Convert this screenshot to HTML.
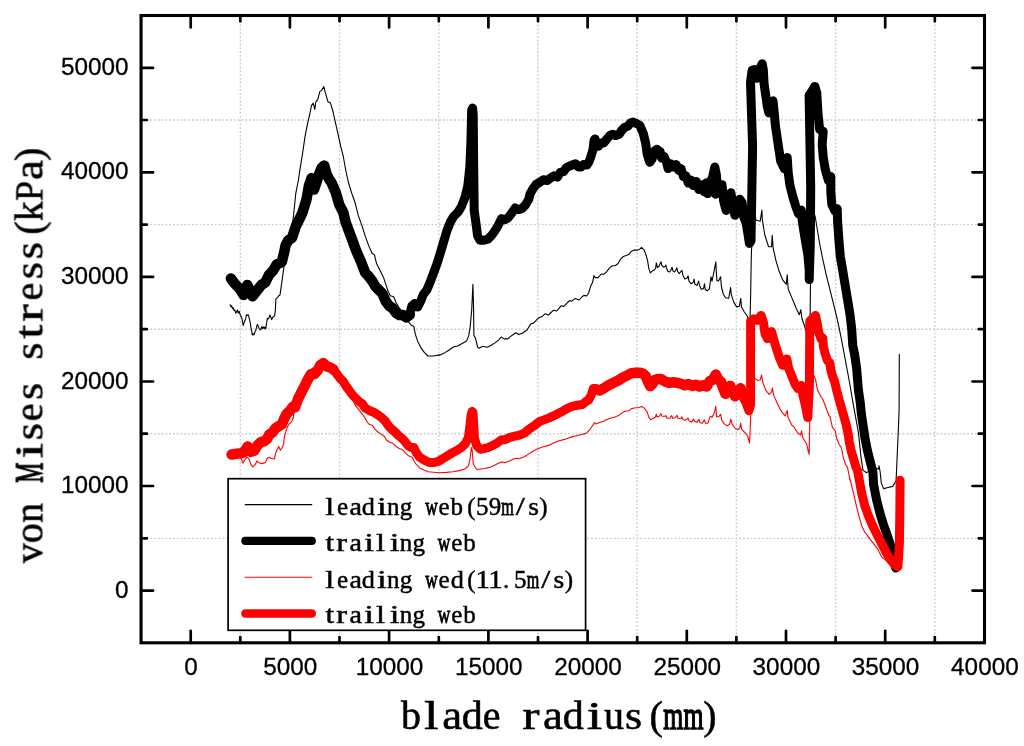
<!DOCTYPE html><html><head><meta charset="utf-8"><style>html,body{margin:0;padding:0;background:#fff;}svg{display:block}</style></head><body>
<svg width="1024" height="746" viewBox="0 0 1024 746">
<rect width="1024" height="746" fill="#fff"/>
<path d="M240.3 17.0V641.3M339.5 17.0V641.3M438.8 17.0V641.3M538.0 17.0V641.3M637.2 17.0V641.3M736.4 17.0V641.3M835.6 17.0V641.3M934.8 17.0V641.3M142.6 538.3H983.0M142.6 433.7H983.0M142.6 329.2H983.0M142.6 224.6H983.0M142.6 120.0H983.0" stroke="#cacaca" stroke-width="1.35" stroke-dasharray="1.8 2" fill="none"/>
<g fill="none" stroke-linejoin="round" stroke-linecap="round">
<path d="M230.1 304.8L231.0 306.9L231.6 305.7L232.5 308.7L233.4 307.8L234.0 310.7L234.8 309.9L235.7 313.1L236.6 311.6L237.5 309.9L238.1 313.1L239.0 311.3L239.9 313.7L240.7 316.1L241.6 317.2L242.5 321.4L243.1 325.5L244.0 323.1L244.9 320.8L245.8 318.4L246.4 314.9L247.2 315.5L248.1 314.6L248.7 316.1L249.3 318.4L250.2 322.5L250.8 326.7L251.7 331.4L252.3 334.9L253.1 333.8L254.0 334.9L254.9 332.0L255.8 330.2L256.4 327.9L257.3 324.3L258.2 326.1L259.0 328.2L260.2 329.9L261.1 329.0L261.7 326.7L262.3 328.4L263.2 326.7L264.1 328.7L264.9 327.0L265.8 328.7L266.7 322.5L267.3 318.4L268.2 319.0L269.1 317.5L270.0 314.9L270.8 317.2L271.7 319.6L272.6 317.2L273.8 316.6L274.7 315.5L275.3 310.7L275.6 304.8L275.9 298.9L277.3 297.8L278.5 296.0L280.0 295.0L281.8 282.3L284.3 264.5L286.9 249.2L290.7 231.4L293.2 218.7L295.8 193.3L298.3 180.5L300.0 169.2L302.5 154.0L305.1 136.2L307.6 123.4L309.7 114.5L311.5 105.6L313.2 103.1L314.8 109.4L315.8 101.8L317.8 99.3L319.8 91.6L321.6 90.4L323.7 86.5L325.4 92.9L328.0 101.8L330.5 103.1L333.1 112.0L335.6 123.4L338.2 134.9L340.7 146.3L343.3 156.5L345.8 170.5L348.3 182.0L352.2 194.7L355.0 202.3L358.4 215.9L361.8 225.1L365.3 236.4L368.7 245.6L372.1 253.5L374.4 254.7L376.6 263.8L380.1 270.6L383.5 277.4L385.8 284.3L388.0 291.1L390.3 295.7L393.7 296.8L396.0 302.5L399.4 308.2L404.0 313.9L408.5 321.9L411.5 325.3L413.8 326.4L415.4 334.4L417.6 341.2L421.1 348.1L424.5 352.6L427.9 356.0L433.6 356.0L439.3 354.9L440.0 355.1L444.4 352.9L448.8 350.2L453.3 347.0L457.7 346.0L462.1 343.6L466.5 341.1L468.7 335.9L470.2 326.3L471.7 310.1L472.4 295.4L472.9 284.3L473.5 304.2L473.9 335.2L475.4 338.1L477.6 347.0L479.1 348.2L482.8 346.2L487.2 347.3L490.9 345.5L495.3 342.6L499.0 339.6L501.2 337.0L504.1 338.9L507.8 338.9L512.2 335.2L515.9 332.7L518.9 334.5L522.6 333.0L527.0 330.0L530.7 324.1L533.6 323.1L538.5 317.8L541.7 316.8L545.0 313.8L548.4 315.1L551.0 312.5L553.7 310.2L556.4 311.1L558.4 309.1L561.1 305.8L563.8 306.4L566.5 303.7L569.1 300.8L571.8 301.1L575.2 298.4L579.2 300.0L581.9 297.0L583.9 295.4L586.6 296.0L588.6 293.0L590.6 286.3L592.6 282.3L593.9 275.6L595.3 277.6L598.0 277.6L601.3 274.0L604.0 274.2L606.7 271.6L609.4 268.2L612.0 265.9L615.4 265.5L618.1 263.5L620.8 258.8L623.4 256.5L626.1 255.5L628.8 254.4L631.5 251.2L634.2 250.1L637.5 250.1L639.5 249.4L641.5 247.4L644.2 250.1L646.2 255.5L647.6 260.8L648.9 268.9L650.3 272.9L652.3 270.9L654.3 270.0L655.6 268.2L656.3 262.9L657.4 267.5L659.0 266.2L660.0 263.9L661.1 261.8L661.6 265.0L663.8 267.2L665.4 266.1L665.9 265.0L666.4 267.7L668.0 271.5L669.7 272.0L671.3 269.3L672.0 267.2L672.9 270.9L674.5 272.0L676.1 269.8L676.8 267.7L677.7 271.5L679.3 273.6L680.9 271.5L682.0 270.4L682.7 274.7L684.7 279.0L686.8 278.4L688.1 275.8L689.0 281.1L691.1 283.8L693.3 282.2L694.1 279.0L694.9 284.3L697.0 285.4L698.6 281.1L699.5 285.4L701.3 289.2L703.5 288.6L704.5 283.8L705.3 289.7L707.2 290.8L709.4 288.6L711.0 276.8L712.0 281.1L713.6 273.6L715.8 261.8L716.3 271.5L716.9 280.6L718.5 281.1L720.6 276.8L721.4 286.5L723.3 294.0L725.5 297.7L728.7 298.3L730.6 287.6L731.4 295.1L734.0 302.6L736.7 306.9L739.4 306.3L740.7 298.3L741.5 306.9L744.2 311.7L746.9 315.5L749.1 320.8L750.1 316.5L750.7 292.9L751.2 260.7L751.5 250.0L754.1 214.1L756.2 220.2L760.2 221.2L761.9 210.1L762.3 219.5L764.7 234.5L768.5 246.7L771.6 246.7L772.2 235.4L773.1 247.7L776.0 260.8L778.8 270.2L782.5 279.6L786.3 284.3L787.2 274.9L788.2 289.0L791.4 296.6L796.4 308.7L799.4 314.7L800.8 309.7L802.0 318.8L804.8 326.8L807.1 334.9L810.1 318.8L810.5 282.6L814.5 217.6L815.0 215.5L817.4 230.0L819.8 244.5L822.2 256.5L825.9 273.4L829.5 287.9L833.1 302.4L836.7 316.9L840.3 333.7L841.6 340.0L844.4 355.0L847.2 370.0L850.0 385.0L852.8 401.9L858.5 432.8L860.8 455.6L863.0 470.4L866.5 472.7L869.9 470.4L875.6 468.1L878.3 469.3L879.0 465.8L880.1 471.5L881.3 482.9L883.6 488.6L888.1 487.5L892.7 486.4L896.1 480.7L897.2 455.6L898.4 428.2L899.1 410.0L899.3 354.4" stroke="#000" stroke-width="1.1"/>
<path d="M230.9 278.5L234.7 283.6L239.8 288.7L243.6 295.0L247.4 284.9L250.0 291.2L252.5 296.3L256.4 291.2L261.4 284.9L265.3 282.3L269.1 274.7L272.9 270.9L276.7 264.5L281.8 262.0L284.3 251.8L285.6 245.4L288.2 240.3L292.0 237.8L295.8 226.3L299.6 218.7L302.5 212.5L306.4 199.8L308.9 185.8L311.5 178.1L314.0 189.6L316.5 182.0L319.1 174.3L321.6 168.0L324.2 165.4L326.7 174.3L329.3 179.4L331.8 183.2L335.6 192.1L339.4 204.9L343.3 212.5L345.8 222.7L349.6 232.8L353.4 243.0L355.0 247.8L358.4 255.8L361.8 263.8L365.3 272.9L368.7 276.3L372.1 280.9L375.5 286.6L378.9 290.0L382.3 293.4L385.8 301.4L389.2 305.9L392.6 308.2L396.0 312.8L399.4 315.0L402.8 315.0L406.3 317.3L409.7 315.0L411.9 305.9L414.7 303.6L417.6 307.1L421.1 300.2L423.3 294.5L426.8 290.0L430.2 282.0L433.6 272.9L437.0 263.8L440.0 254.0L443.4 242.6L446.8 231.2L450.3 222.1L453.7 216.4L458.2 211.9L461.6 206.2L465.1 197.1L467.8 185.7L469.8 167.4L470.9 142.4L471.7 110.0L472.6 108.0L473.2 115.1L473.6 158.3L474.2 210.7L475.8 222.1L477.6 235.8L479.9 240.3L483.3 240.3L487.8 239.2L491.3 235.8L494.7 231.2L498.1 225.5L501.5 218.7L504.9 219.8L508.3 217.6L511.8 213.0L515.2 208.0L518.6 209.6L522.0 208.5L525.4 205.0L528.8 199.3L530.0 193.9L532.7 189.2L536.0 184.5L539.4 182.5L543.4 179.8L547.4 180.5L550.8 177.8L554.1 175.8L557.5 177.1L560.2 172.4L563.5 171.7L566.2 167.7L568.9 166.4L572.2 165.0L575.6 163.7L578.3 167.0L581.0 167.0L583.6 164.4L587.0 165.0L589.0 161.7L591.0 156.3L593.0 149.6L594.1 140.2L595.0 138.9L596.4 144.2L598.4 146.3L601.1 142.9L603.7 142.9L606.4 139.6L609.8 135.5L612.5 134.2L615.8 135.5L619.2 134.2L621.8 130.2L624.5 127.5L627.9 126.1L630.6 122.8L633.2 122.1L636.6 123.5L639.9 125.5L643.2 133.2L645.6 142.9L647.2 154.1L649.7 162.2L652.1 159.0L654.5 150.9L656.9 149.3L660.1 151.7L661.7 158.1L664.1 156.5L666.5 162.2L668.1 168.6L670.6 163.8L673.0 167.0L676.2 164.6L678.6 170.2L681.0 168.6L683.4 176.6L685.8 175.8L688.3 183.1L690.7 179.9L693.1 185.5L696.3 181.5L698.7 189.5L701.1 184.7L704.3 191.9L705.9 183.1L707.6 193.5L710.0 181.5L712.4 178.3L714.8 167.0L716.4 175.0L717.2 187.9L715.6 194.3L719.6 184.7L722.0 184.7L723.6 200.8L726.1 210.4L728.1 199.2L730.9 192.7L732.5 202.4L734.9 215.3L737.3 212.0L739.7 199.2L742.1 202.4L743.7 216.9L746.2 223.3L747.8 232.9L749.4 243.4L751.0 241.0L751.8 194.3L752.6 146.1L750.5 82.3L752.1 70.3L754.5 69.5L756.9 78.3L759.3 75.9L760.9 66.3L762.2 63.8L763.3 69.5L764.1 83.9L765.7 95.2L767.3 106.4L768.9 112.9L771.4 103.2L773.0 100.8L774.1 111.3L775.4 125.7L777.3 138.6L780.7 161.3L784.4 168.8L787.2 157.5L788.2 172.5L790.0 185.7L792.9 196.9L795.7 206.3L798.5 213.8L801.3 210.1L802.3 221.4L804.1 232.6L806.0 243.9L807.9 255.2L809.2 270.2L809.2 279.6L810.3 243.9L810.7 187.6L809.1 95.2L811.5 92.0L814.8 86.4L816.8 92.9L817.9 112.2L819.6 129.4L823.2 131.5L822.2 144.4L823.2 157.3L825.4 170.1L828.6 180.9L830.8 176.6L830.8 191.6L831.8 204.5L835.0 210.9L837.2 208.8L837.6 221.6L838.9 240.1L840.3 256.5L842.8 271.0L845.2 285.5L847.6 300.0L850.0 314.4L851.7 328.9L852.4 340.0L852.8 345.6L854.7 355.0L856.6 368.1L858.4 390.0L860.2 402.1L861.4 414.1L863.2 426.2L865.0 438.3L867.4 450.4L870.4 462.4L872.9 472.1L873.6 484.7L876.5 499.5L880.2 514.2L883.9 526.0L887.6 536.3L890.5 545.2L892.8 552.6L894.2 561.4L895.0 565.8L895.7 568.0" stroke="#000" stroke-width="9"/>
<path d="M230.9 278.5L234.7 283.6L239.8 288.7L243.6 295.0L247.4 284.9L250.0 291.2L252.5 296.3L256.4 291.2L261.4 284.9L265.3 282.3L269.1 274.7L272.9 270.9L276.7 264.5L281.8 262.0L284.3 251.8L285.6 245.4L288.2 240.3L292.0 237.8L295.8 226.3L299.6 218.7L302.5 212.5L306.4 199.8L308.9 185.8L311.5 178.1L314.0 189.6L316.5 182.0L319.1 174.3L321.6 168.0L324.2 165.4L326.7 174.3L329.3 179.4L331.8 183.2L335.6 192.1L339.4 204.9L343.3 212.5L345.8 222.7L349.6 232.8L353.4 243.0L355.0 247.8L358.4 255.8L361.8 263.8L365.3 272.9L368.7 276.3L372.1 280.9L375.5 286.6L378.9 290.0L382.3 293.4L385.8 301.4L389.2 305.9L392.6 308.2L396.0 312.8L399.4 315.0L402.8 315.0L406.3 317.3L409.7 315.0" stroke="#000" stroke-width="10.5"/>
<path d="M228.4 455.6L232.7 455.9L237.0 456.7L241.3 458.3L242.9 463.1L245.1 459.3L247.2 457.2L249.3 459.3L251.0 464.7L252.6 466.8L254.2 465.8L255.8 463.6L256.9 461.0L259.0 462.6L261.1 463.6L263.3 463.1L265.4 462.6L267.0 458.8L269.2 457.2L270.8 458.3L272.4 458.8L274.5 458.8L275.6 452.9L277.2 449.7L278.8 446.5L280.4 450.2L282.1 447.5L283.7 444.3L284.2 437.9L285.3 433.6L286.9 428.2L289.0 424.0L290.6 422.9L292.2 420.7L293.3 417.5L295.0 405.1L299.3 395.4L303.6 386.8L307.9 378.2L312.2 368.1L316.4 368.6L320.7 364.3L324.0 362.2L327.2 366.4L331.5 369.7L335.8 374.0L340.0 379.3L344.3 384.7L348.6 390.0L351.8 395.4L355.1 405.1L359.3 410.4L363.6 415.8L365.0 418.1L367.1 421.8L369.3 424.5L372.0 425.0L374.7 428.8L377.9 432.0L381.1 434.1L384.3 436.3L386.4 440.0L389.7 442.2L392.9 443.3L396.1 446.5L399.3 448.6L402.5 449.7L405.8 453.4L409.0 456.1L412.2 457.2L414.3 461.5L416.5 464.7L419.7 467.9L424.0 470.1L428.3 471.7L433.6 472.2L440.0 472.7L446.4 472.4L452.9 471.7L459.3 470.6L464.7 469.0L468.4 465.8L470.0 459.3L471.1 449.7L471.7 447.5L472.4 452.9L473.2 463.6L475.4 467.9L477.5 469.5L480.8 469.0L485.0 468.5L489.3 467.4L493.6 465.8L497.9 463.6L501.7 462.0L505.4 462.6L509.7 461.0L514.0 458.8L517.2 458.3L519.0 458.8L524.4 456.8L528.4 454.1L532.4 451.5L537.8 448.8L543.2 446.8L548.5 445.4L553.9 442.7L559.2 440.7L564.6 439.4L570.0 437.4L575.3 436.0L580.7 434.7L586.0 433.4L590.1 429.3L592.7 425.3L594.8 422.6L596.1 424.0L599.5 422.6L603.5 421.3L607.5 419.3L610.0 418.3L614.3 417.2L618.6 415.6L621.8 412.9L625.0 411.3L628.8 410.8L631.4 408.6L635.7 407.8L639.0 407.5L641.6 406.5L644.3 408.1L647.0 411.8L649.1 417.7L650.8 419.9L653.4 418.3L655.6 417.0L656.3 414.2L657.2 417.0L659.3 416.3L660.9 413.8L662.0 416.3L664.7 416.1L666.3 415.9L666.8 418.3L670.1 418.3L671.7 415.6L672.7 418.3L675.4 417.7L677.0 415.3L678.1 418.3L680.8 418.8L681.8 416.7L682.9 419.3L685.0 420.3L687.4 419.1L688.0 417.9L689.2 420.9L691.6 422.1L693.4 419.1L694.7 421.5L697.1 422.1L698.9 419.3L700.1 422.7L702.5 423.3L704.3 419.7L705.5 423.3L707.9 423.3L710.3 416.1L712.1 417.3L714.6 411.9L715.8 406.4L716.6 416.7L718.8 416.7L720.6 414.3L721.8 420.3L724.2 423.9L727.2 425.7L729.6 424.5L730.8 419.1L732.0 423.9L735.1 428.2L738.1 429.7L739.9 427.6L740.7 423.3L741.7 429.4L744.7 432.4L747.7 436.0L749.5 443.2L750.1 432.4L750.7 416.7L751.9 378.1L754.7 378.2L757.9 380.6L760.3 379.8L761.6 375.0L762.7 382.2L765.9 390.3L769.1 394.3L771.6 391.9L772.4 387.9L773.6 395.1L777.2 403.2L781.2 411.2L785.2 416.0L787.2 410.4L788.1 417.6L791.7 425.1L793.6 426.5L797.9 433.0L800.5 435.1L801.6 430.8L802.6 437.3L806.5 443.7L809.1 454.4L810.1 407.2L813.8 375.1L815.5 379.4L817.5 390.1L821.3 397.6L822.6 398.7L825.8 407.2L829.0 415.8L830.0 416.6L832.4 427.4L835.4 431.0L836.6 438.3L839.1 444.3L841.5 448.0L843.3 457.6L845.7 464.9L847.5 467.3L848.7 473.3L849.9 480.1L850.0 478.8L852.9 490.6L855.9 503.9L858.8 515.7L861.8 526.0L864.7 531.9L869.2 537.8L873.6 543.7L878.0 549.6L881.7 557.0L885.4 559.9L889.8 564.4L894.2 568.0L897.9 569.1" stroke="#f00" stroke-width="1.1"/>
<path d="M231.6 454.5L234.9 454.0L239.2 453.4L243.4 452.9L247.7 446.5L251.0 451.8L254.2 450.8L257.4 445.4L260.6 442.2L264.4 441.1L267.0 439.0L269.2 434.7L272.4 432.5L275.6 428.2L278.8 426.1L282.1 424.0L284.2 418.6L286.3 414.3L289.6 411.1L292.8 406.8L295.0 407.2L298.2 398.6L301.4 392.2L304.7 385.8L307.9 379.3L311.1 374.0L314.3 374.0L317.5 370.7L320.2 365.4L323.4 363.2L326.6 366.4L330.4 367.5L333.6 369.7L336.8 374.0L340.0 378.2L343.3 381.5L346.5 386.8L349.7 391.1L352.9 395.4L356.1 398.6L359.3 401.8L362.6 404.0L365.0 407.9L369.3 410.5L373.6 412.2L377.9 414.8L382.2 418.1L385.4 421.3L388.6 426.1L391.8 429.3L395.0 432.0L398.2 435.2L401.5 437.9L404.7 441.1L407.9 445.4L411.1 447.5L413.8 447.5L416.5 452.9L419.7 457.2L422.9 459.3L426.1 461.0L429.3 462.6L433.6 462.6L437.9 461.5L440.0 460.4L444.3 457.7L448.6 455.1L452.9 452.4L457.2 450.2L461.4 447.5L465.2 443.8L468.3 437.9L469.8 427.2L471.0 416.0L472.0 411.5L473.0 412.2L473.7 425.0L474.4 437.9L476.6 445.4L480.2 449.2L484.0 448.6L488.3 447.5L492.5 445.4L496.8 443.3L501.1 440.0L505.4 439.5L509.7 437.4L514.8 436.2L519.6 435.2L524.5 433.0L529.3 429.0L534.1 425.8L538.9 421.9L543.8 419.9L548.6 418.1L553.4 415.9L558.2 413.5L563.1 410.9L567.9 408.1L572.7 406.1L577.5 405.3L582.3 404.5L587.2 400.6L588.7 399.9L591.4 394.5L593.4 388.5L596.1 388.5L599.5 390.5L603.5 388.5L607.5 385.8L610.0 384.5L614.3 382.3L618.6 380.2L622.9 377.5L627.2 375.4L631.4 373.2L635.7 372.7L640.0 372.7L643.2 373.8L645.9 376.4L648.1 381.8L650.2 386.1L652.4 384.0L654.5 380.2L657.2 379.1L660.9 379.1L664.7 381.3L669.0 382.9L673.3 382.3L677.6 382.9L681.8 384.0L685.0 385.3L688.6 384.1L692.2 385.9L695.9 384.7L699.5 386.5L703.1 385.3L706.7 386.5L709.7 381.1L712.7 379.9L715.8 374.5L718.2 379.3L721.2 382.3L723.0 387.7L725.4 393.8L727.8 390.2L730.2 385.9L732.6 391.4L735.1 396.2L738.1 391.4L740.5 388.3L742.9 395.0L745.3 399.8L747.1 405.8L748.9 410.7L750.6 404.8L750.6 321.1L753.9 318.7L757.1 320.3L761.1 315.5L763.5 322.7L765.1 334.0L767.5 338.8L771.6 331.6L774.0 340.4L776.4 348.5L779.6 358.1L782.8 365.3L786.8 358.9L788.5 367.8L791.7 375.8L794.9 383.9L798.1 388.7L801.3 385.5L802.9 395.1L805.3 404.8L807.8 417.6L809.4 385.5L809.8 321.1L813.0 317.9L815.5 315.5L817.1 322.7L818.7 332.4L821.1 338.8L822.7 338.0L823.5 346.8L825.1 353.3L827.5 360.5L829.9 362.9L830.7 369.4L832.4 375.8L834.8 382.2L836.6 390.0L839.1 399.7L841.5 408.1L843.9 416.6L846.3 425.0L848.1 433.5L849.3 441.9L851.1 450.4L853.5 458.8L856.0 467.3L857.4 470.0L859.6 481.8L861.8 493.6L864.7 505.4L868.4 515.7L872.1 524.5L876.5 533.4L881.0 542.2L885.4 551.1L889.8 558.5L894.2 564.4L897.9 566.6L899.4 543.7L899.8 514.2L900.1 480.3" stroke="#f00" stroke-width="9"/>
<path d="M599.5 390.5L603.5 388.5L607.5 385.8L610.0 384.5L614.3 382.3L618.6 380.2L622.9 377.5L627.2 375.4L631.4 373.2L635.7 372.7L640.0 372.7L643.2 373.8L645.9 376.4L648.1 381.8L650.2 386.1L652.4 384.0L654.5 380.2L657.2 379.1L660.9 379.1L664.7 381.3L669.0 382.9L673.3 382.3L677.6 382.9L681.8 384.0L685.0 385.3L688.6 384.1L692.2 385.9L695.9 384.7L699.5 386.5L703.1 385.3L706.7 386.5L709.7 381.1L712.7 379.9L715.8 374.5L718.2 379.3L721.2 382.3L723.0 387.7L725.4 393.8L727.8 390.2L730.2 385.9L732.6 391.4L735.1 396.2L738.1 391.4L740.5 388.3L742.9 395.0L745.3 399.8" stroke="#f00" stroke-width="10.5"/>
<path d="M231.6 454.5L234.9 454.0L239.2 453.4L243.4 452.9L247.7 446.5L251.0 451.8L254.2 450.8L257.4 445.4L260.6 442.2L264.4 441.1L267.0 439.0L269.2 434.7L272.4 432.5L275.6 428.2L278.8 426.1L282.1 424.0L284.2 418.6L286.3 414.3L289.6 411.1L292.8 406.8L295.0 407.2L298.2 398.6L301.4 392.2L304.7 385.8L307.9 379.3L311.1 374.0L314.3 374.0L317.5 370.7L320.2 365.4L323.4 363.2L326.6 366.4L330.4 367.5L333.6 369.7" stroke="#f00" stroke-width="10.5"/>
</g>
<path d="M190.7 642.8v-12M190.7 15.5v12M289.9 642.8v-12M289.9 15.5v12M389.1 642.8v-12M389.1 15.5v12M488.4 642.8v-12M488.4 15.5v12M587.6 642.8v-12M587.6 15.5v12M686.8 642.8v-12M686.8 15.5v12M786.0 642.8v-12M786.0 15.5v12M885.2 642.8v-12M885.2 15.5v12M240.3 642.8v-5.8M240.3 15.5v5.8M339.5 642.8v-5.8M339.5 15.5v5.8M438.8 642.8v-5.8M438.8 15.5v5.8M538.0 642.8v-5.8M538.0 15.5v5.8M637.2 642.8v-5.8M637.2 15.5v5.8M736.4 642.8v-5.8M736.4 15.5v5.8M835.6 642.8v-5.8M835.6 15.5v5.8M934.8 642.8v-5.8M934.8 15.5v5.8M141.1 590.6h12M984.5 590.6h-12M141.1 486.0h12M984.5 486.0h-12M141.1 381.5h12M984.5 381.5h-12M141.1 276.9h12M984.5 276.9h-12M141.1 172.3h12M984.5 172.3h-12M141.1 67.8h12M984.5 67.8h-12M141.1 538.3h5.8M984.5 538.3h-5.8M141.1 433.7h5.8M984.5 433.7h-5.8M141.1 329.2h5.8M984.5 329.2h-5.8M141.1 224.6h5.8M984.5 224.6h-5.8M141.1 120.0h5.8M984.5 120.0h-5.8" stroke="#000" stroke-width="2.7" stroke-linecap="round" fill="none"/>
<rect x="141.05" y="15.50" width="843.45" height="627.30" fill="none" stroke="#000" stroke-width="3.1"/>
<g font-family="Liberation Sans, sans-serif" font-size="24.3" fill="#000" stroke="#000" stroke-width="0.3" style="filter:grayscale(1)">
<text x="191.1" y="674.6" text-anchor="middle">0</text>
<text x="290.3" y="674.6" text-anchor="middle">5000</text>
<text x="389.5" y="674.6" text-anchor="middle">10000</text>
<text x="488.8" y="674.6" text-anchor="middle">15000</text>
<text x="588.0" y="674.6" text-anchor="middle">20000</text>
<text x="687.2" y="674.6" text-anchor="middle">25000</text>
<text x="786.4" y="674.6" text-anchor="middle">30000</text>
<text x="885.6" y="674.6" text-anchor="middle">35000</text>
<text x="984.9" y="674.6" text-anchor="middle">40000</text>
<text x="128.6" y="597.6" text-anchor="end">0</text>
<text x="128.6" y="493.1" text-anchor="end">10000</text>
<text x="128.6" y="388.5" text-anchor="end">20000</text>
<text x="128.6" y="283.9" text-anchor="end">30000</text>
<text x="128.6" y="179.4" text-anchor="end">40000</text>
<text x="128.6" y="74.8" text-anchor="end">50000</text>
</g>
<g font-family="Liberation Serif, serif" fill="#000" stroke="#000" stroke-width="0.55" style="filter:grayscale(1)">
<text x="411.00" y="729.00" text-anchor="middle" font-size="40">b</text><text transform="translate(431.17 729.00) scale(1.300 1)" text-anchor="middle" font-size="40">l</text><text transform="translate(452.14 729.00) scale(1.120 1)" text-anchor="middle" font-size="40">a</text><text transform="translate(472.31 729.00) scale(1.050 1)" text-anchor="middle" font-size="40">d</text><text x="491.68" y="729.00" text-anchor="middle" font-size="40">e</text><text transform="translate(530.82 729.00) scale(1.300 1)" text-anchor="middle" font-size="40">r</text><text transform="translate(552.99 729.00) scale(1.120 1)" text-anchor="middle" font-size="40">a</text><text transform="translate(573.16 729.00) scale(1.050 1)" text-anchor="middle" font-size="40">d</text><text transform="translate(594.53 729.00) scale(1.400 1)" text-anchor="middle" font-size="40">i</text><text x="613.90" y="729.00" text-anchor="middle" font-size="40">u</text><text transform="translate(633.67 729.00) scale(1.100 1)" text-anchor="middle" font-size="40">s</text><text x="656.24" y="729.00" text-anchor="middle" font-size="40">(</text><text transform="translate(673.21 729.00) scale(0.643 1)" text-anchor="middle" font-size="40" stroke-width="1.44">m</text><text transform="translate(693.38 729.00) scale(0.643 1)" text-anchor="middle" font-size="40" stroke-width="1.44">m</text><text x="709.95" y="729.00" text-anchor="middle" font-size="40">)</text>
<g transform="translate(42.4 553.2) rotate(-90)"><text x="0.00" y="0.00" text-anchor="middle" font-size="40">v</text><text x="20.12" y="0.00" text-anchor="middle" font-size="40">o</text><text x="40.24" y="0.00" text-anchor="middle" font-size="40">n</text><text transform="translate(80.48 0.00) scale(0.562 1)" text-anchor="middle" font-size="40" stroke-width="1.44">M</text><text transform="translate(102.60 0.00) scale(1.400 1)" text-anchor="middle" font-size="40">i</text><text transform="translate(121.52 0.00) scale(1.100 1)" text-anchor="middle" font-size="40">s</text><text x="140.84" y="0.00" text-anchor="middle" font-size="40">e</text><text transform="translate(161.76 0.00) scale(1.100 1)" text-anchor="middle" font-size="40">s</text><text transform="translate(202.00 0.00) scale(1.100 1)" text-anchor="middle" font-size="40">s</text><text transform="translate(221.32 0.00) scale(1.250 1)" text-anchor="middle" font-size="40">t</text><text transform="translate(240.24 0.00) scale(1.300 1)" text-anchor="middle" font-size="40">r</text><text x="261.56" y="0.00" text-anchor="middle" font-size="40">e</text><text transform="translate(282.48 0.00) scale(1.100 1)" text-anchor="middle" font-size="40">s</text><text transform="translate(302.60 0.00) scale(1.100 1)" text-anchor="middle" font-size="40">s</text><text x="325.12" y="0.00" text-anchor="middle" font-size="40">(</text><text x="342.04" y="0.00" text-anchor="middle" font-size="40">k</text><text transform="translate(362.16 0.00) scale(0.899 1)" text-anchor="middle" font-size="40">P</text><text transform="translate(383.08 0.00) scale(1.120 1)" text-anchor="middle" font-size="40">a</text><text x="398.80" y="0.00" text-anchor="middle" font-size="40">)</text></g>
</g>
<rect x="228.1" y="478.7" width="357.5" height="151.6" fill="#fff" stroke="#000" stroke-width="1.7"/>
<path d="M244.7 504.6H312.2" stroke="#000" stroke-width="1.1"/>
<path d="M244.7 577.3H312.2" stroke="#f00" stroke-width="1.1"/>
<g stroke-linecap="round">
<path d="M245.4 540.9H311.8" stroke="#000" stroke-width="8.2"/>
<path d="M245.4 613.6H311.8" stroke="#f00" stroke-width="8.5"/>
</g>
<g font-family="Liberation Serif, serif" fill="#000" stroke="#000" stroke-width="0.45" style="filter:grayscale(1)">
<text transform="translate(329.80 514.80) scale(1.300 1)" text-anchor="middle" font-size="25">l</text><text x="342.50" y="514.80" text-anchor="middle" font-size="25">e</text><text transform="translate(355.70 514.80) scale(1.120 1)" text-anchor="middle" font-size="25">a</text><text transform="translate(368.40 514.80) scale(1.050 1)" text-anchor="middle" font-size="25">d</text><text transform="translate(381.85 514.80) scale(1.400 1)" text-anchor="middle" font-size="25">i</text><text x="393.30" y="514.80" text-anchor="middle" font-size="25">n</text><text x="406.00" y="514.80" text-anchor="middle" font-size="25">g</text><text transform="translate(431.40 514.80) scale(0.692 1)" text-anchor="middle" font-size="25" stroke-width="0.90">w</text><text x="444.10" y="514.80" text-anchor="middle" font-size="25">e</text><text x="456.80" y="514.80" text-anchor="middle" font-size="25">b</text><text x="471.50" y="514.80" text-anchor="middle" font-size="25">(</text><text x="482.20" y="514.80" text-anchor="middle" font-size="25">5</text><text x="494.90" y="514.80" text-anchor="middle" font-size="25">9</text><text transform="translate(507.60 514.80) scale(0.643 1)" text-anchor="middle" font-size="25" stroke-width="0.90">m</text><text transform="translate(520.30 514.80) scale(1.300 1)" text-anchor="middle" font-size="25">/</text><text transform="translate(533.50 514.80) scale(1.100 1)" text-anchor="middle" font-size="25">s</text><text x="543.45" y="514.80" text-anchor="middle" font-size="25">)</text>
<text transform="translate(329.80 551.10) scale(1.250 1)" text-anchor="middle" font-size="25">t</text><text transform="translate(341.75 551.10) scale(1.300 1)" text-anchor="middle" font-size="25">r</text><text transform="translate(355.70 551.10) scale(1.120 1)" text-anchor="middle" font-size="25">a</text><text transform="translate(369.15 551.10) scale(1.400 1)" text-anchor="middle" font-size="25">i</text><text transform="translate(380.60 551.10) scale(1.300 1)" text-anchor="middle" font-size="25">l</text><text transform="translate(394.55 551.10) scale(1.400 1)" text-anchor="middle" font-size="25">i</text><text x="406.00" y="551.10" text-anchor="middle" font-size="25">n</text><text x="418.70" y="551.10" text-anchor="middle" font-size="25">g</text><text transform="translate(444.10 551.10) scale(0.692 1)" text-anchor="middle" font-size="25" stroke-width="0.90">w</text><text x="456.80" y="551.10" text-anchor="middle" font-size="25">e</text><text x="469.50" y="551.10" text-anchor="middle" font-size="25">b</text>
<text transform="translate(329.80 587.50) scale(1.300 1)" text-anchor="middle" font-size="25">l</text><text x="342.50" y="587.50" text-anchor="middle" font-size="25">e</text><text transform="translate(355.70 587.50) scale(1.120 1)" text-anchor="middle" font-size="25">a</text><text transform="translate(368.40 587.50) scale(1.050 1)" text-anchor="middle" font-size="25">d</text><text transform="translate(381.85 587.50) scale(1.400 1)" text-anchor="middle" font-size="25">i</text><text x="393.30" y="587.50" text-anchor="middle" font-size="25">n</text><text x="406.00" y="587.50" text-anchor="middle" font-size="25">g</text><text transform="translate(431.40 587.50) scale(0.692 1)" text-anchor="middle" font-size="25" stroke-width="0.90">w</text><text x="444.10" y="587.50" text-anchor="middle" font-size="25">e</text><text transform="translate(457.30 587.50) scale(1.050 1)" text-anchor="middle" font-size="25">d</text><text x="471.50" y="587.50" text-anchor="middle" font-size="25">(</text><text transform="translate(482.70 587.50) scale(1.150 1)" text-anchor="middle" font-size="25">1</text><text transform="translate(495.40 587.50) scale(1.150 1)" text-anchor="middle" font-size="25">1</text><text x="506.10" y="587.50" text-anchor="middle" font-size="25">.</text><text x="520.30" y="587.50" text-anchor="middle" font-size="25">5</text><text transform="translate(533.00 587.50) scale(0.643 1)" text-anchor="middle" font-size="25" stroke-width="0.90">m</text><text transform="translate(545.70 587.50) scale(1.300 1)" text-anchor="middle" font-size="25">/</text><text transform="translate(558.90 587.50) scale(1.100 1)" text-anchor="middle" font-size="25">s</text><text x="568.85" y="587.50" text-anchor="middle" font-size="25">)</text>
<text transform="translate(329.80 623.30) scale(1.250 1)" text-anchor="middle" font-size="25">t</text><text transform="translate(341.75 623.30) scale(1.300 1)" text-anchor="middle" font-size="25">r</text><text transform="translate(355.70 623.30) scale(1.120 1)" text-anchor="middle" font-size="25">a</text><text transform="translate(369.15 623.30) scale(1.400 1)" text-anchor="middle" font-size="25">i</text><text transform="translate(380.60 623.30) scale(1.300 1)" text-anchor="middle" font-size="25">l</text><text transform="translate(394.55 623.30) scale(1.400 1)" text-anchor="middle" font-size="25">i</text><text x="406.00" y="623.30" text-anchor="middle" font-size="25">n</text><text x="418.70" y="623.30" text-anchor="middle" font-size="25">g</text><text transform="translate(444.10 623.30) scale(0.692 1)" text-anchor="middle" font-size="25" stroke-width="0.90">w</text><text x="456.80" y="623.30" text-anchor="middle" font-size="25">e</text><text x="469.50" y="623.30" text-anchor="middle" font-size="25">b</text>
</g>
</svg></body></html>
